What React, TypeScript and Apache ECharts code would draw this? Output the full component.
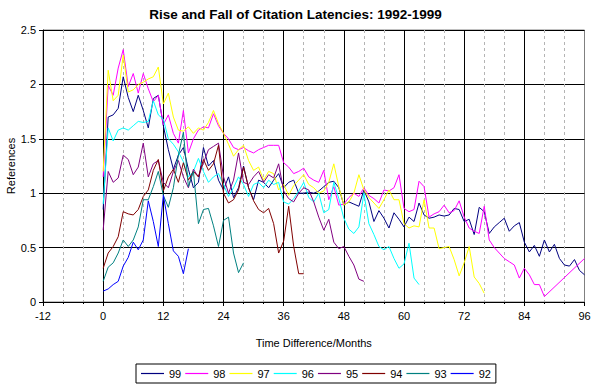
import React, { useEffect, useRef } from "react";
import * as echarts from "echarts";

const FONT = 'Arial, "Liberation Sans", sans-serif';

const titleText = "Rise and Fall of Citation Latencies: 1992-1999";
const xName = "Time Difference/Months";
const yName = "References";

const seriesNames = ["99", "98", "97", "96", "95", "94", "93", "92"];
const seriesColors = ["#000080", "#FF00FF", "#FFFF00", "#00FFFF", "#800080", "#800000", "#008080", "#0000FF"];

// values indexed by month (0, 1, 2, ...); null = no point
const s99 = [
  0.85, 1.7, 1.72, 1.78, 2.07, 1.88, 1.75, 1.9, 1.76, 1.6, 1.87, 1.9, 1.62, 1.4, 1.22, 1.35, 1.42, 1.22, 1.05, 1.1,
  1.42, 1.25, 1.3, 1.12, 1.03, 1.15, 0.96, 1.05, 1.25, 1.05, 0.94, 1.12, 1.1, 1.05, 1.12, 1.18, 1.05, 1.1, 1.12, 1.0,
  1.0, 1.01, 1.0, 1.02, 1.06, 1.1, 1.11, 1.05, 0.89, 0.92, 0.9, 0.88, 1.03, 0.92, 0.74, 0.84, 0.77, 0.68, 0.82, 0.76,
  0.69, 0.78, 0.74, 0.91, 0.8, 0.77, 0.78, 0.8, 0.79, 0.8, 0.86, 0.85, 0.74, 0.76, 0.62, 0.87, 0.83, 0.63, 0.69, 0.73,
  0.77, 0.65, 0.7, 0.73, 0.55, 0.46, 0.52, 0.42, 0.57, 0.46, 0.53, 0.4, 0.34, 0.33, 0.39, 0.29, 0.25,
];
const s98 = [
  1.15, 1.99, 1.9, 2.15, 2.32, 1.98, 2.1, 1.92, 2.1, 1.96, 1.84, 1.9, 1.63, 1.72, 1.55, 1.46, 1.76, 1.37, 1.5, 1.58,
  1.61, 1.6, 1.73, 1.62, 1.55, 1.5, 1.42, 1.4, 1.42, 1.39, 1.37, 1.4, 1.42, 1.44, 1.44, 1.44, 1.28, 1.24, 1.18, 1.2,
  1.23, 1.15, 1.12, 1.1, 1.21, 0.94, 1.06, 0.89, 0.9, 0.96, 1.0, 0.97, 1.05, 0.98, 0.95, 0.91, 1.03, 1.02, 1.05, 1.17,
  0.86, 0.83, 0.85, 1.11, 1.06, 0.78, 0.81, 0.83, 0.89, 0.82, 0.84, 0.93, 0.78, 0.68, 0.65, 0.63, 0.88, 0.57, 0.5, 0.45,
  0.4, 0.37, 0.34, 0.22, 0.31, 0.25, 0.16, 0.16, 0.05, null, null, null, null, null, null, null, 0.4,
];
const s97 = [
  1.2, 2.13, 1.85, 1.9, 2.27, 1.93, 1.95, 2.0, 2.02, 2.05, 2.07, 2.16, 1.82, 1.92, 1.7, 1.58, 1.57, 1.61, 1.55, 1.6,
  1.58, 1.65, 1.76, 1.64, 1.55, 1.45, 1.34, 1.4, 1.44, 1.3, 1.21, 1.24, 1.12, 1.2, 1.18, 1.03, 1.08, 0.98, 1.07, 1.12,
  1.17, 1.08, 1.05, 1.0, 1.02, 1.1, 1.27, 1.06, 0.89, 0.92, 1.0, 1.17, 1.03, 0.96, 0.91, 0.86, 0.94, 1.03, 0.94, 0.94,
  0.72, 0.68, 0.7, 0.69, 0.94, 0.68, 0.68, 0.49, 0.5, 0.51, 0.39, 0.24, 0.36, 0.51, 0.23, 0.17, 0.08,
];
const s96 = [
  0.9, 1.6, 1.48, 1.58, 1.6, 1.58, 1.62, 1.66, 1.65, 1.66, 1.85, 1.72, 1.68, 1.5, 1.45, 1.38, 1.29, 1.15, 1.2, 1.32,
  1.2, 1.1, 1.15, 1.18, 1.08, 0.97, 1.05, 1.15, 1.08, 0.97, 1.08, 1.1, 1.05, 1.12, 1.08, 1.1, 0.92, 0.9, 0.95, 1.02,
  1.1, 0.96, 0.92, 1.0, 0.82, 0.85, 1.1, 0.95, 0.77, 0.67, 0.63, 0.69, 1.0, 0.72, 0.62, 0.51, 0.48, 0.51, 0.4, 0.31,
  0.35, 0.54, 0.22, 0.16,
];
const s95 = [
  0.66, 1.2, 1.1, 1.14, 1.35, 1.31, 1.17, 1.24, 1.46, 1.15, 1.27, 1.3, 1.1, 1.05, 1.2, 1.3, 1.15, 1.05, 1.22, 1.15,
  1.28, 1.4, 1.43, 1.46, 1.15, 1.0, 1.12, 1.37, 1.1, 1.08, 1.15, 1.2, 1.1, 1.17, 1.14, 1.27, 1.02, 0.95, 0.92, 1.0,
  1.05, 1.03, 0.92, 0.78, 0.66, 0.76, 0.55, 0.49, 0.51, 0.42, 0.34, 0.21, 0.19,
];
const s94 = [
  0.31, 0.45, 0.51, 0.6, 0.83, 0.81, 0.8, 0.85, 0.97, 1.03, 1.21, 1.31, 1.02, 1.15, 1.22, 1.1, 1.28, 1.12, 1.2, 1.15,
  1.31, 1.21, 1.27, 1.44, 1.0, 0.91, 0.94, 1.03, 1.24, 1.05, 0.93, 0.85, 0.82, 0.86, 0.72, 0.45, 0.56, 0.88, 0.51, 0.26,
  0.26,
];
const s93 = [
  0.19, 0.32, 0.36, 0.45, 0.57, 0.51, 0.57, 0.69, 0.94, 0.94, 1.06, 1.2, 0.98, 0.87, 1.05, 1.35, 1.56, 1.06, 1.2, 0.72,
  0.85, 0.86, 0.7, 0.51, 0.75, 0.78, 0.45, 0.27, 0.36,
];
const s92 = [0.1, 0.12, 0.16, 0.19, 0.33, 0.41, 0.55, 0.48, 0.57, 0.93, 0.74, 0.51, 0.98, 0.72, 0.47, 0.42, 0.26, 0.49];

const seriesValues = [s99, s98, s97, s96, s95, s94, s93, s92];

const xMin = -12;
const xMax = 96;
const xStep = 12;
const yMin = 0;
const yMax = 2.5;
const yStep = 0.5;

function toPairs(values: (number | null)[]) {
  const out: [number, number][] = [];
  values.forEach((v, i) => {
    if (v !== null && v !== undefined) out.push([i, v]);
  });
  return out;
}

export default function App() {
  const ref = useRef<HTMLDivElement>(null);

  useEffect(() => {
    document.body.style.margin = "0";
    if (!ref.current) return;
    const chart = echarts.init(ref.current, undefined, { renderer: "svg" });
    const labelStyle = { color: "#000", fontSize: 11, fontFamily: FONT };
    chart.setOption({
      animation: false,
      backgroundColor: "#ffffff",
      textStyle: { fontFamily: FONT },
      title: {
        text: titleText,
        left: "center",
        top: 2,
        textStyle: { fontFamily: FONT, fontSize: 13.5, fontWeight: "bold", color: "#000" },
      },
      grid: {
        left: 43,
        right: 6.5,
        top: 30,
        bottom: 84,
        containLabel: false,
        outerBoundsMode: "none",
        show: true,
        borderColor: "#808080",
        borderWidth: 1,
        backgroundColor: "#ffffff",
      },
      xAxis: {
        type: "value",
        min: xMin,
        max: xMax,
        interval: xStep,
        name: xName,
        nameLocation: "middle",
        nameGap: 35,
        nameMoveOverlap: false,
        nameTextStyle: labelStyle,
        axisLine: { show: true, onZero: false, lineStyle: { color: "#000", width: 1 } },
        axisTick: { show: true, length: 4, lineStyle: { color: "#000" } },
        minorTick: { show: true, splitNumber: 3, length: 2, lineStyle: { color: "#000" } },
        axisLabel: { ...labelStyle, margin: 8 },
        splitLine: { show: true, showMaxLine: false, lineStyle: { color: "#000", width: 1 } },
        minorSplitLine: { show: true, lineStyle: { color: "#b4b4b4", width: 1, type: [3, 3] } },
      },
      yAxis: {
        type: "value",
        min: yMin,
        max: yMax,
        interval: yStep,
        name: yName,
        nameLocation: "middle",
        nameGap: 27,
        nameMoveOverlap: false,
        nameTextStyle: labelStyle,
        axisLine: { show: true, onZero: false, lineStyle: { color: "#000", width: 1 } },
        axisTick: { show: true, length: 4, lineStyle: { color: "#000" } },
        axisLabel: { ...labelStyle, margin: 7 },
        splitLine: { show: true, lineStyle: { color: "#000", width: 1 } },
      },
      legend: {
        left: 136,
        top: 364,
        orient: "horizontal",
        padding: [4, 5, 4, 5],
        borderColor: "#000",
        borderWidth: 1,
        itemWidth: 23,
        itemHeight: 1.2,
        itemGap: 4,
        textStyle: labelStyle,
        data: seriesNames.map((name, k) => ({
          name,
          icon: "rect",
          itemStyle: { color: seriesColors[k], borderWidth: 0, borderColor: seriesColors[k], opacity: 1 },
        })),
      },
      series: seriesNames.map((name, k) => ({
        name,
        type: "line",
        data: toPairs(seriesValues[k]),
        symbol: "none",
        showSymbol: false,
        silent: true,
        color: seriesColors[k],
        lineStyle: { color: seriesColors[k], width: 1 },
        itemStyle: { color: seriesColors[k] },
        emphasis: { disabled: true },
      })),
    });
    return () => chart.dispose();
  }, []);

  return <div ref={ref} style={{ width: 591, height: 386, position: "absolute", left: 0, top: 0 }} />;
}
